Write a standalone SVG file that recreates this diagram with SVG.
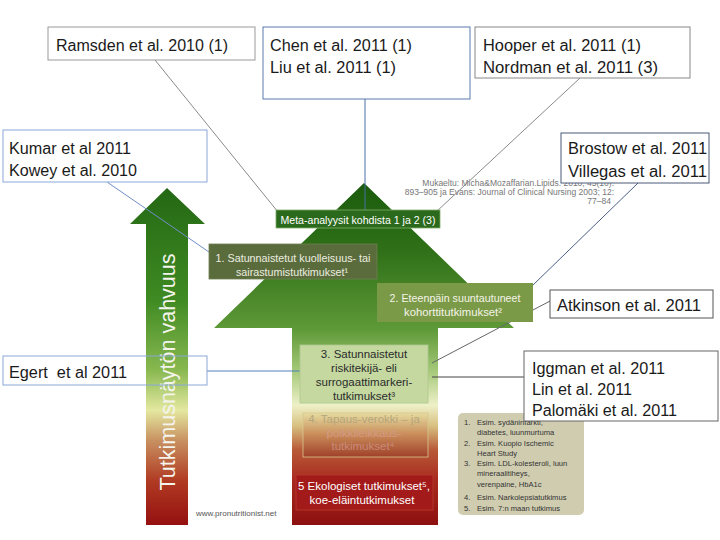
<svg xmlns="http://www.w3.org/2000/svg" width="720" height="540" viewBox="0 0 720 540">
<defs>
<linearGradient id="gMain" gradientUnits="userSpaceOnUse" x1="0" y1="183" x2="0" y2="525">
<stop offset="0" stop-color="#1a5c0c"/>
<stop offset="0.2" stop-color="#2f7018"/>
<stop offset="0.43" stop-color="#5f9a38"/>
<stop offset="0.55" stop-color="#a6c97a"/>
<stop offset="0.65" stop-color="#eef0c8"/>
<stop offset="0.71" stop-color="#d8c080"/>
<stop offset="0.78" stop-color="#b85a38"/>
<stop offset="0.87" stop-color="#a82a1e"/>
<stop offset="1" stop-color="#8c1010"/>
</linearGradient>
<linearGradient id="gLeft" gradientUnits="userSpaceOnUse" x1="0" y1="188" x2="0" y2="525">
<stop offset="0" stop-color="#246814"/>
<stop offset="0.33" stop-color="#3f8a22"/>
<stop offset="0.54" stop-color="#88b850"/>
<stop offset="0.66" stop-color="#e4e8a0"/>
<stop offset="0.75" stop-color="#c89060"/>
<stop offset="0.87" stop-color="#b03a22"/>
<stop offset="1" stop-color="#951010"/>
</linearGradient>
<linearGradient id="gBox4" x1="0" y1="0" x2="0" y2="1">
<stop offset="0" stop-color="#e6dca0"/>
<stop offset="0.5" stop-color="#c88a58"/>
<stop offset="1" stop-color="#a0402a"/>
</linearGradient>
<style>
.cite{font-family:"Liberation Sans",Arial,sans-serif;font-size:16px;fill:#1a1a1a}
.cbox{fill:#ffffff;stroke-width:1}
.in{font-family:"Liberation Sans",Arial,sans-serif;font-size:11.5px;text-anchor:middle}
.leg{font-family:"Liberation Sans",Arial,sans-serif;font-size:7.6px;fill:#333}
.src{font-family:"Liberation Sans",Arial,sans-serif;font-size:8.5px;fill:#777;text-anchor:end}
.conn{fill:none;stroke-width:1}
</style>
</defs>
<rect width="720" height="540" fill="#ffffff"/>

<g id="main-arrow">
<polygon points="364,183 514,328 438,328 438,525 292,525 292,328 214,328" fill="url(#gMain)"/>
</g>

<g id="strength-arrow">
<polygon points="167,188 205,224 188,224 188,525 146,525 146,224 130,224" fill="url(#gLeft)"/>
<text transform="translate(175,372) rotate(-90)" text-anchor="middle" font-family="'Liberation Sans',Arial,sans-serif" font-size="22" fill="#f4f4ec" textLength="237" lengthAdjust="spacingAndGlyphs">Tutkimusnäytön vahvuus</text>
</g>

<g id="source">
<text class="src" x="614" y="186">Mukaeltu: Micha&amp;Mozaffarian.Lipids. 2010; 45(10):</text>
<text class="src" x="614" y="195">893–905 ja Evans: Journal of Clinical Nursing 2003; 12:</text>
<text class="src" x="611" y="204">77–84</text>
</g>

<g id="connectors">
<line class="conn" x1="155" y1="60" x2="278" y2="212" stroke="#8a8a8a"/>
<line class="conn" x1="365" y1="99" x2="365" y2="210" stroke="#4a6fa5" stroke-width="1.6"/>
<line class="conn" x1="580" y1="78" x2="436" y2="212" stroke="#8a8a8a"/>
<line class="conn" x1="107" y1="182" x2="209" y2="252" stroke="#6f8fc8"/>
<line class="conn" x1="207" y1="371" x2="300" y2="371" stroke="#4f81bd" stroke-width="1.6"/>
<line class="conn" x1="638" y1="183" x2="531" y2="287" stroke="#4a6088"/>
<line class="conn" x1="552" y1="300" x2="432" y2="363" stroke="#666666"/>
<line class="conn" x1="524" y1="377" x2="432" y2="377" stroke="#444444"/>
</g>

<g id="node-meta">
<rect x="276" y="210" width="164" height="18" fill="#2b6a1c" stroke="#7fae6a" stroke-width="0.8"/>
<text class="in" x="358" y="224" fill="#ffffff" font-size="12.5" textLength="155" lengthAdjust="spacingAndGlyphs">Meta-analyysit kohdista 1 ja 2 (3)</text>
</g>

<g id="node-1">
<rect x="209" y="244" width="168" height="35" fill="#5a6c3c" stroke="#6f7f50" stroke-width="0.8"/>
<text class="in" x="293" y="262" fill="#ecece0" font-size="12" textLength="155" lengthAdjust="spacingAndGlyphs">1. Satunnaistetut kuolleisuus- tai</text>
<text class="in" x="292" y="276" fill="#ecece0" font-size="12" textLength="112" lengthAdjust="spacingAndGlyphs">sairastumistutkimukset¹</text>
</g>

<g id="node-2">
<rect x="377" y="283" width="156" height="39" fill="#7b9a47"/>
<text class="in" x="455" y="302" fill="#f4f4e8" font-size="12" textLength="131" lengthAdjust="spacingAndGlyphs">2. Eteenpäin suuntautuneet</text>
<text class="in" x="453" y="316" fill="#f4f4e8" font-size="12" textLength="98" lengthAdjust="spacingAndGlyphs">kohorttitutkimukset²</text>
</g>

<g id="node-3">
<rect x="300" y="345" width="128" height="58" fill="#c4d8a0" stroke="#b0c890" stroke-width="0.8"/>
<text class="in" x="364" y="358" fill="#2b2b2b">3. Satunnaistetut</text>
<text class="in" x="364" y="372" fill="#2b2b2b">riskitekijä- eli</text>
<text class="in" x="364" y="386" fill="#2b2b2b">surrogaattimarkeri-</text>
<text class="in" x="364" y="400" fill="#2b2b2b">tutkimukset³</text>
</g>

<g id="node-4">
<rect x="303" y="413" width="125" height="44" fill="url(#gBox4)" stroke="#d8c890" stroke-width="0.8"/>
<text class="in" x="364" y="423" fill="#b4a67c">4. Tapaus-verokki – ja</text>
<text class="in" x="364" y="437" fill="#d49a84">poikkileikkaus-</text>
<text class="in" x="363" y="450" fill="#c88a78">tutkimukset⁴</text>
</g>

<g id="node-5">
<rect x="296" y="475" width="137" height="35" fill="#a31a1a" stroke="#b83a30" stroke-width="0.8"/>
<text class="in" x="364" y="490" fill="#ffffff">5 Ekologiset tutkimukset⁵,</text>
<text class="in" x="362" y="504" fill="#ffffff">koe-eläintutkimukset</text>
</g>

<g id="legend">
<rect x="458" y="413" width="126" height="102" rx="5" fill="#cfccb0"/>
<text class="leg" x="464" y="425">1.</text><text class="leg" x="477" y="425">Esim. sydäninfarkti,</text>
<text class="leg" x="477" y="435">diabetes, luunmurtuma</text>
<text class="leg" x="464" y="446">2.</text><text class="leg" x="477" y="446">Esim. Kuopio Ischemic</text>
<text class="leg" x="477" y="456">Heart Study</text>
<text class="leg" x="464" y="466">3.</text><text class="leg" x="477" y="466">Esim. LDL-kolesteroli, luun</text>
<text class="leg" x="477" y="476">mineraalitiheys,</text>
<text class="leg" x="477" y="487">verenpaine, HbA1c</text>
<text class="leg" x="464" y="500">4.</text><text class="leg" x="477" y="500">Esim. Narkolepsiatutkimus</text>
<text class="leg" x="464" y="511">5.</text><text class="leg" x="477" y="511">Esim. 7:n maan tutkimus</text>
</g>

<g id="credit">
<text x="196" y="516" font-family="'Liberation Sans',Arial,sans-serif" font-size="8" fill="#555">www.pronutritionist.net</text>
</g>

<g id="box-ramsden">
<rect class="cbox" x="48" y="27" width="207" height="33" stroke="#999999"/>
<text class="cite" x="56" y="51" textLength="172" lengthAdjust="spacingAndGlyphs">Ramsden et al. 2010 (1)</text>
</g>

<g id="box-chen">
<rect class="cbox" x="263" y="27" width="207" height="72" stroke="#5a7ab0"/>
<text class="cite" x="270" y="51" textLength="142" lengthAdjust="spacingAndGlyphs">Chen et al. 2011 (1)</text>
<text class="cite" x="270" y="73" textLength="126" lengthAdjust="spacingAndGlyphs">Liu et al. 2011 (1)</text>
</g>

<g id="box-hooper">
<rect class="cbox" x="475" y="27" width="215" height="51" stroke="#888888"/>
<text class="cite" x="483" y="51" textLength="158" lengthAdjust="spacingAndGlyphs">Hooper et al. 2011 (1)</text>
<text class="cite" x="483" y="73" textLength="175" lengthAdjust="spacingAndGlyphs">Nordman et al. 2011 (3)</text>
</g>

<g id="box-kumar">
<rect class="cbox" x="3" y="130" width="204" height="52" stroke="#8aa8d8"/>
<text class="cite" x="9" y="154" textLength="122" lengthAdjust="spacingAndGlyphs">Kumar et al 2011</text>
<text class="cite" x="9" y="176" textLength="128" lengthAdjust="spacingAndGlyphs">Kowey et al. 2010</text>
</g>

<g id="box-egert">
<rect x="3" y="356" width="204" height="29" fill="none" stroke="#8aa8d8"/>
<text class="cite" x="9" y="378" textLength="118" lengthAdjust="spacingAndGlyphs">Egert&#160; et al 2011</text>
</g>

<g id="box-brostow">
<rect class="cbox" x="561" y="133" width="148" height="50" stroke="#4a5a7a"/>
<text class="cite" x="568" y="154" font-size="17" textLength="139" lengthAdjust="spacingAndGlyphs">Brostow et al. 2011</text>
<text class="cite" x="568" y="177" font-size="17" textLength="139" lengthAdjust="spacingAndGlyphs">Villegas et al. 2011</text>
</g>

<g id="box-atkinson">
<rect class="cbox" x="550" y="290" width="163" height="28" stroke="#555555"/>
<text class="cite" x="557" y="311" font-size="17" textLength="144" lengthAdjust="spacingAndGlyphs">Atkinson et al. 2011</text>
</g>

<g id="box-iggman">
<rect class="cbox" x="524" y="351" width="194" height="70" stroke="#666666"/>
<text class="cite" x="532" y="374" font-size="17" textLength="133" lengthAdjust="spacingAndGlyphs">Iggman et al. 2011</text>
<text class="cite" x="532" y="395" font-size="17" textLength="100" lengthAdjust="spacingAndGlyphs">Lin et al. 2011</text>
<text class="cite" x="532" y="416" font-size="17" textLength="145" lengthAdjust="spacingAndGlyphs">Palomäki et al. 2011</text>
</g>
</svg>
